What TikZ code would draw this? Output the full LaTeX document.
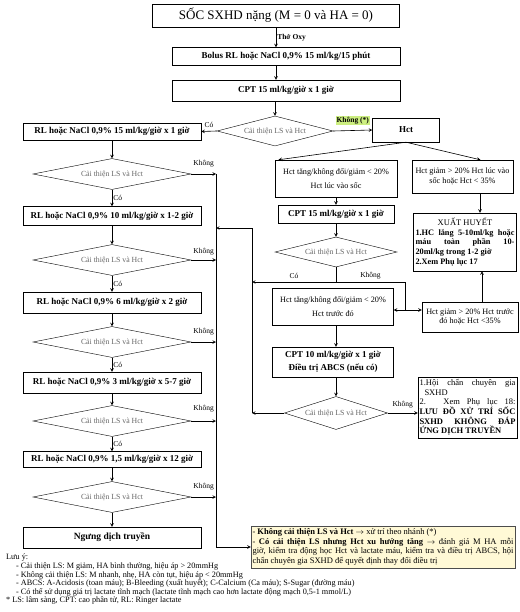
\documentclass[tikz,border=0pt]{standalone}
\usepackage{fontspec}
\setmainfont{Liberation Serif}
\usepackage{tikz}
\usetikzlibrary{shapes.geometric, arrows}
\definecolor{kgreen}{RGB}{204,238,128}
\definecolor{notefill}{RGB}{255,249,214}
\tikzstyle{title} = [rectangle, minimum width=247, minimum height=23, draw=black, fill=white, font=\fontsize{13}{15}\selectfont]
\tikzstyle{process} = [rectangle, minimum width=178, minimum height=19, inner sep=1pt, text centered, draw=black, fill=white, font=\fontsize{9}{11}\selectfont\bfseries]
\tikzstyle{decision} = [diamond, aspect=5, minimum width=158, minimum height=31, inner sep=0pt, draw=black, fill=white, font=\fontsize{7.8}{9}\selectfont, text=black!60]
\tikzstyle{hctbox} = [rectangle, draw=black, fill=white, align=center, inner sep=1pt, font=\fontsize{8.2}{9.5}\selectfont]
\tikzstyle{textbox} = [rectangle, draw=black, fill=white, align=justify, inner sep=2pt, font=\fontsize{8.3}{9.8}\selectfont]
\tikzstyle{lbl} = [inner sep=1pt, font=\fontsize{7.5}{8}\selectfont]
\tikzstyle{arrow} = [line width=0.6pt,->,>=stealth]
\tikzstyle{line} = [line width=0.6pt]

\begin{document}
\begin{tikzpicture}[x=1pt, y=-1pt]
\useasboundingbox (0,0) rectangle (519,612);

\node (0) [title] at (276,15.5) {SỐC SXHD nặng (M = 0 và HA = 0)};

\node (1) [process, minimum width=228, minimum height=18] at (286,56.5) {Bolus RL hoặc NaCl 0,9\% 15 ml/kg/15 phút};

\node (2) [process, minimum width=228, minimum height=21] at (286,90.5) {CPT 15 ml/kg/giờ x 1 giờ};

\node (3) [decision, minimum width=116, minimum height=30] at (275,131) {Cải thiện LS và Hct};

\node (3a) [process, minimum height=17] at (112,131.5) {RL hoặc NaCl 0,9\% 15 ml/kg/giờ x 1 giờ};

\node (3b) [process, minimum width=67, minimum height=24] at (406,130) {Hct};

% left column
\node (4) [decision] at (112,174) {Cải thiện LS và Hct};

\node (5) [process] at (112,216) {RL hoặc NaCl 0,9\% 10 ml/kg/giờ x 1-2 giờ};

\node (6) [decision] at (112,260) {Cải thiện LS và Hct};

\node (7) [process, minimum height=21] at (112,302.5) {RL hoặc NaCl 0,9\% 6 ml/kg/giờ x 2 giờ};

\node (8) [decision] at (112,342) {Cải thiện LS và Hct};

\node (9) [process, minimum height=21] at (112,382.5) {RL hoặc NaCl 0,9\% 3 ml/kg/giờ x 5-7 giờ};

\node (10) [decision] at (112,421) {Cải thiện LS và Hct};

\node (11) [process, minimum height=16] at (112,459.5) {RL hoặc NaCl 0,9\% 1,5 ml/kg/giờ x 12 giờ};

\node (12) [decision] at (112,497) {Cải thiện LS và Hct};

\node (13) [process, minimum height=21, font=\fontsize{9.5}{11}\selectfont\bfseries] at (112,537.5) {Ngưng dịch truyền};

% Hct branch
\node (4a) [hctbox, minimum width=122, minimum height=37] at (336,178.5) {Hct tăng/không đổi/giảm < 20\%\\[4pt]Hct lúc vào sốc};

\node (4b) [hctbox, minimum width=101, minimum height=33] at (462.5,176.5) {Hct giảm > 20\% Hct lúc vào\\sốc hoặc Hct < 35\%};

\node (5a) [process, minimum width=116, minimum height=18] at (336,214) {CPT 15 ml/kg/giờ x 1 giờ};

\node (5b) [textbox, text width=99, minimum height=58] at (465,242) {\makebox[\linewidth]{\fontsize{8.5}{10}\selectfont XUẤT HUYẾT}\par\textbf{1.HC lắng 5-10ml/kg hoặc\linebreak máu toàn phần 10-\linebreak 20ml/kg trong 1-2 giờ}\par\textbf{2.Xem Phụ lục 17}};

\node (6a) [decision, minimum width=122, minimum height=30] at (336,252) {Cải thiện LS và Hct};

\node (7a) [hctbox, minimum width=121, minimum height=37] at (333,306.5) {Hct tăng/không đổi/giảm < 20\%\\[4pt]Hct trước đó};

\node (7b) [hctbox, minimum width=96, minimum height=30] at (470,317) {Hct giảm > 20\% Hct trước\\đó hoặc Hct <35\%};

\node (8a) [process, minimum width=121, minimum height=30, align=center] at (333,362) {CPT 10 ml/kg/giờ x 1 giờ\\[2pt]Điều trị ABCS (nếu có)};

\node (9a) [decision, minimum width=103, minimum height=33] at (336,413) {Cải thiện LS và Hct};

\node (9b) [textbox, text width=96, minimum height=61, inner sep=1.5pt, font=\fontsize{8.5}{9.7}\selectfont] at (467.5,407.5) {\hangindent=5pt\hangafter=1 1.Hội chẩn chuyên gia\linebreak SXHD\par 2. Xem Phụ lục 18:\linebreak \textbf{LƯU ĐỒ XỬ TRÍ SỐC\linebreak SXHD KHÔNG ĐÁP\linebreak ỨNG DỊCH TRUYỀN}};

\node (14) [textbox, draw=black!70, fill=notefill, text width=261, minimum height=42, inner sep=1.5pt, font=\fontsize{8.5}{9.6}\selectfont] at (383,547) {- \textbf{Không cải thiện LS và Hct} $\rightarrow$ xử trí theo nhánh (*)\par - \textbf{Có cải thiện LS nhưng Hct xu hướng tăng} $\rightarrow$ đánh giá M HA mỗi\linebreak giờ, kiểm tra động học Hct và lactate máu, kiểm tra và điều trị ABCS, hội chẩn chuyên gia SXHD để quyết định thay đổi điều trị};

\node (15) [anchor=north west, align=left, inner sep=0pt, font=\fontsize{8.2}{8.6}\selectfont] at (6,554) {Lưu ý:\\
\hspace*{10pt}- Cải thiện LS: M giảm, HA bình thường, hiệu áp > 20mmHg\\
\hspace*{10pt}- Không cải thiện LS: M nhanh, nhẹ, HA còn tụt, hiệu áp < 20mmHg\\
\hspace*{10pt}- ABCS: A-Acidosis (toan máu); B-Bleeding (xuất huyết); C-Calcium (Ca máu); S-Sugar (đường máu)\\
\hspace*{10pt}- Có thể sử dụng giá trị lactate tĩnh mạch (lactate tĩnh mạch cao hơn lactate động mạch 0,5-1 mmol/L)\\
* LS: lâm sàng, CPT: cao phân tử, RL: Ringer lactate};

\coordinate (bus) at (216,547);

\coordinate (back) at (252,228);

\coordinate (j1) at (336,282);

\coordinate (j2) at (405,282);

\coordinate (j3) at (405,310);

\draw [arrow] (0.south) -- (0.south |- 1.north) node [lbl, midway, right, font=\fontsize{7.5}{8}\selectfont\bfseries] {Thở Oxy};

\draw [arrow] (1.south -| 0.south) -- (2.north -| 0.south);

\draw [arrow] (2.south -| 3.north) -- (3.north);

\draw [arrow] (3.west) -- (3a.east) node [lbl, midway, above=2pt] {Có};

\draw [arrow] (3.east) -- (3b.west) node [lbl, midway, above=5pt, fill=kgreen, font=\fontsize{7.5}{8}\selectfont\bfseries] {Không (*)};

\draw [arrow] (3b.south) -- (4a.162);

\draw [arrow] (3b.south) -- (4b.43);

\draw [arrow] (3a) -- (4);

\draw [arrow] (4) -- (5) node [lbl, midway, right] {Có};

\draw [arrow] (5) -- (6);

\draw [arrow] (6) -- (7) node [lbl, midway, right] {Có};

\draw [arrow] (7) -- (8);

\draw [arrow] (8) -- (9) node [lbl, midway, right] {Có};

\draw [arrow] (9) -- (10);

\draw [arrow] (10) -- (11) node [lbl, midway, right] {Có};

\draw [arrow] (11) -- (12);

\draw [arrow] (12) -- (13);

\draw [arrow] (4.east) -- (4.east -| bus) node [lbl, midway, above=6pt] {Không};

\draw [arrow] (6.east) -- (6.east -| bus) node [lbl, midway, above=4pt] {Không};

\draw [arrow] (8.east) -- (8.east -| bus) node [lbl, midway, above=6pt] {Không};

\draw [arrow] (10.east) -- (10.east -| bus) node [lbl, midway, above=8pt] {Không};

\draw [arrow] (12.east) -- (12.east -| bus) node [lbl, midway, above=6pt] {Không};

\draw [arrow] (4.east -| bus) -- (bus) -- (14.west);

\draw [arrow] (4a) -- (5a);

\draw [arrow] (5a) -- (6a);

\draw [line] (6a.south) -- (j1);

\draw [arrow] (j1) -- (j1 -| back) node [lbl, midway, above=2pt] {Có};

\draw [line] (j1) -- (j2) node [lbl, midway, above=2pt] {Không} -- (j3);

\draw [arrow] (j3) -- (j3 -| 7a.east);

\draw [arrow] (j3) -- (j3 -| 7b.west);

\draw [arrow] ([xshift=17.5]4b.south) -- ([xshift=15]5b.north);

\draw [arrow] ([xshift=12]7b.north) -- ([xshift=17]5b.south);

\draw [arrow] (7a.south -| 9a.north) -- (8a.north -| 9a.north);

\draw [arrow] (8a.south -| 9a.north) -- (9a.north);

\draw [arrow] (9a.west) -- (9a.west -| back);

\draw [arrow] (9a.west -| back) -- (back) -- (back -| bus);

\draw [arrow] (9a.east) -- (9a.east -| 9b.west) node [lbl, midway, above=4pt] {Không};

\end{tikzpicture}
\end{document}
